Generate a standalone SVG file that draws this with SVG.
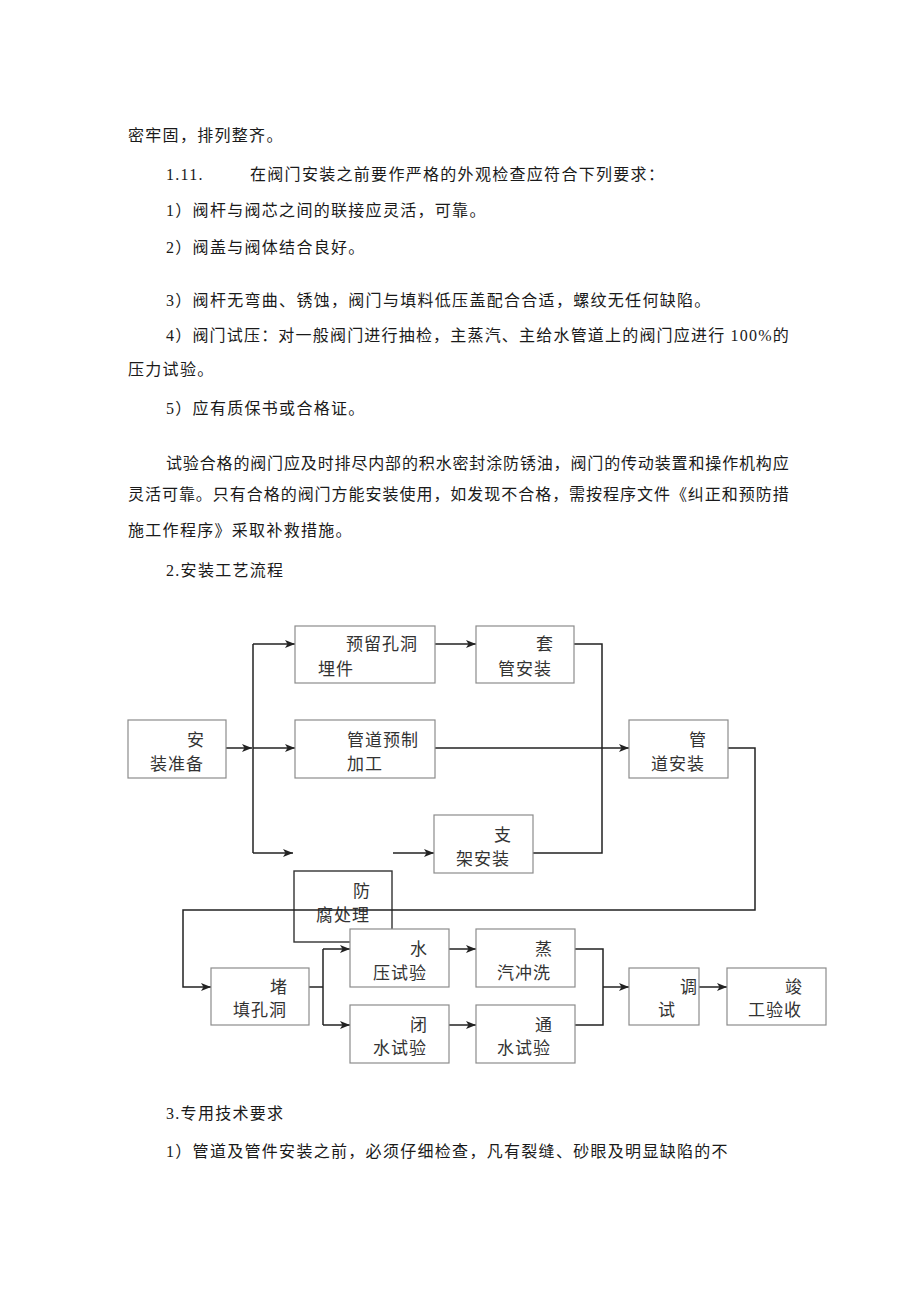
<svg xmlns="http://www.w3.org/2000/svg" width="920" height="1301" viewBox="0 0 920 1301">
<style>
.t{font-family:"Liberation Serif","Noto Sans CJK SC",serif;font-size:16px;letter-spacing:1.3px;fill:#1a1a1a}
.b{font-family:"Liberation Serif","Noto Sans CJK SC",serif;font-size:17px;letter-spacing:1px;fill:#333}
.box{fill:#fff;stroke:#8c8c8c;stroke-width:1.2}
.dbox{fill:none;stroke:#333;stroke-width:1.4}
.c{fill:none;stroke:#222;stroke-width:1.5}
.a{marker-end:url(#arr)}
</style>
<defs>
<marker id="arr" markerUnits="userSpaceOnUse" markerWidth="11" markerHeight="9" refX="10" refY="4" orient="auto">
<path d="M0,0 L10,4 L0,8 L2.5,4 z" fill="#222"/>
</marker>
</defs>
<rect width="920" height="1301" fill="#fff"/>
<g id="body-text">
<text class="t" x="128" y="141">密牢固，排列整齐。</text>
<text class="t" x="166" y="180">1.11.</text>
<text class="t" x="250" y="180">在阀门安装之前要作严格的外观检查应符合下列要求：</text>
<text class="t" x="166" y="216">1）阀杆与阀芯之间的联接应灵活，可靠。</text>
<text class="t" x="166" y="253">2）阀盖与阀体结合良好。</text>
<text class="t" x="166" y="306">3）阀杆无弯曲、锈蚀，阀门与填料低压盖配合合适，螺纹无任何缺陷。</text>
<text class="t" x="166" y="341" textLength="624" lengthAdjust="spacing">4）阀门试压：对一般阀门进行抽检，主蒸汽、主给水管道上的阀门应进行 100%的</text>
<text class="t" x="128" y="375">压力试验。</text>
<text class="t" x="166" y="414">5）应有质保书或合格证。</text>
<text class="t" x="166" y="469" textLength="624" lengthAdjust="spacing">试验合格的阀门应及时排尽内部的积水密封涂防锈油，阀门的传动装置和操作机构应</text>
<text class="t" x="128" y="500" textLength="662" lengthAdjust="spacing">灵活可靠。只有合格的阀门方能安装使用，如发现不合格，需按程序文件《纠正和预防措</text>
<text class="t" x="128" y="536">施工作程序》采取补救措施。</text>
<text class="t" x="166" y="576">2.安装工艺流程</text>
<text class="t" x="166" y="1119">3.专用技术要求</text>
<text class="t" x="166" y="1157">1）管道及管件安装之前，必须仔细检查，凡有裂缝、砂眼及明显缺陷的不</text>
</g>
<g id="n-fangfu">
<rect class="dbox" x="294" y="871" width="98" height="71"/>
<text class="b" x="353" y="897">防</text>
<text class="b" x="316" y="921">腐处理</text>
</g>
<g id="connectors">
<path class="c a" d="M226,748 H252"/>
<path class="c" d="M253,644 V853"/>
<path class="c a" d="M253,644 H295"/>
<path class="c a" d="M253,748 H295"/>
<path class="c a" d="M253,853 H293"/>
<path class="c a" d="M393,853 H434"/>
<path class="c a" d="M435,644 H476"/>
<path class="c" d="M574,644 H602 V853 H533"/>
<path class="c a" d="M435,748 H629"/>
<path class="c a" d="M728,748 H755 V910 H183 V987 H211"/>
<path class="c" d="M309,987 H323"/>
<path class="c" d="M323,949 V1025"/>
<path class="c a" d="M323,949 H350"/>
<path class="c a" d="M323,1025 H350"/>
<path class="c a" d="M449,949 H476"/>
<path class="c a" d="M449,1025 H476"/>
<path class="c" d="M575,949 H603 V1025 H575"/>
<path class="c a" d="M603,987 H629"/>
<path class="c a" d="M699,987 H727"/>
</g>
<g id="n-anzhuang">
<rect class="box" x="128" y="720" width="98" height="58"/>
<text class="b" x="187" y="746">安</text>
<text class="b" x="150" y="770">装准备</text>
</g>
<g id="n-yuliu">
<rect class="box" x="295" y="626" width="140" height="57"/>
<text class="b" x="346" y="650">预留孔洞</text>
<text class="b" x="318" y="675">埋件</text>
</g>
<g id="n-taoguan">
<rect class="box" x="476" y="626" width="98" height="57"/>
<text class="b" x="536" y="650">套</text>
<text class="b" x="498" y="675">管安装</text>
</g>
<g id="n-yuzhi">
<rect class="box" x="295" y="720" width="140" height="58"/>
<text class="b" x="347" y="746">管道预制</text>
<text class="b" x="347" y="770">加工</text>
</g>
<g id="n-guandao">
<rect class="box" x="629" y="720" width="99" height="58"/>
<text class="b" x="689" y="746">管</text>
<text class="b" x="651" y="770">道安装</text>
</g>
<g id="n-zhijia">
<rect class="box" x="434" y="815" width="99" height="58"/>
<text class="b" x="494" y="841">支</text>
<text class="b" x="456" y="865">架安装</text>
</g>
<g id="n-shuiya">
<rect class="box" x="350" y="929" width="99" height="58"/>
<text class="b" x="410" y="955">水</text>
<text class="b" x="373" y="979">压试验</text>
</g>
<g id="n-bishui">
<rect class="box" x="350" y="1005" width="99" height="58"/>
<text class="b" x="410" y="1031">闭</text>
<text class="b" x="373" y="1054">水试验</text>
</g>
<g id="n-dutian">
<rect class="box" x="211" y="968" width="98" height="57"/>
<text class="b" x="270" y="993">堵</text>
<text class="b" x="233" y="1016">填孔洞</text>
</g>
<g id="n-zhengqi">
<rect class="box" x="476" y="929" width="99" height="58"/>
<text class="b" x="535" y="955">蒸</text>
<text class="b" x="497" y="979">汽冲洗</text>
</g>
<g id="n-tongshui">
<rect class="box" x="476" y="1005" width="99" height="58"/>
<text class="b" x="535" y="1031">通</text>
<text class="b" x="497" y="1054">水试验</text>
</g>
<g id="n-tiaoshi">
<rect class="box" x="629" y="968" width="70" height="57"/>
<text class="b" x="680" y="993">调</text>
<text class="b" x="658" y="1016">试</text>
</g>
<g id="n-jungong">
<rect class="box" x="727" y="968" width="99" height="57"/>
<text class="b" x="785" y="993">竣</text>
<text class="b" x="748" y="1016">工验收</text>
</g>
</svg>
